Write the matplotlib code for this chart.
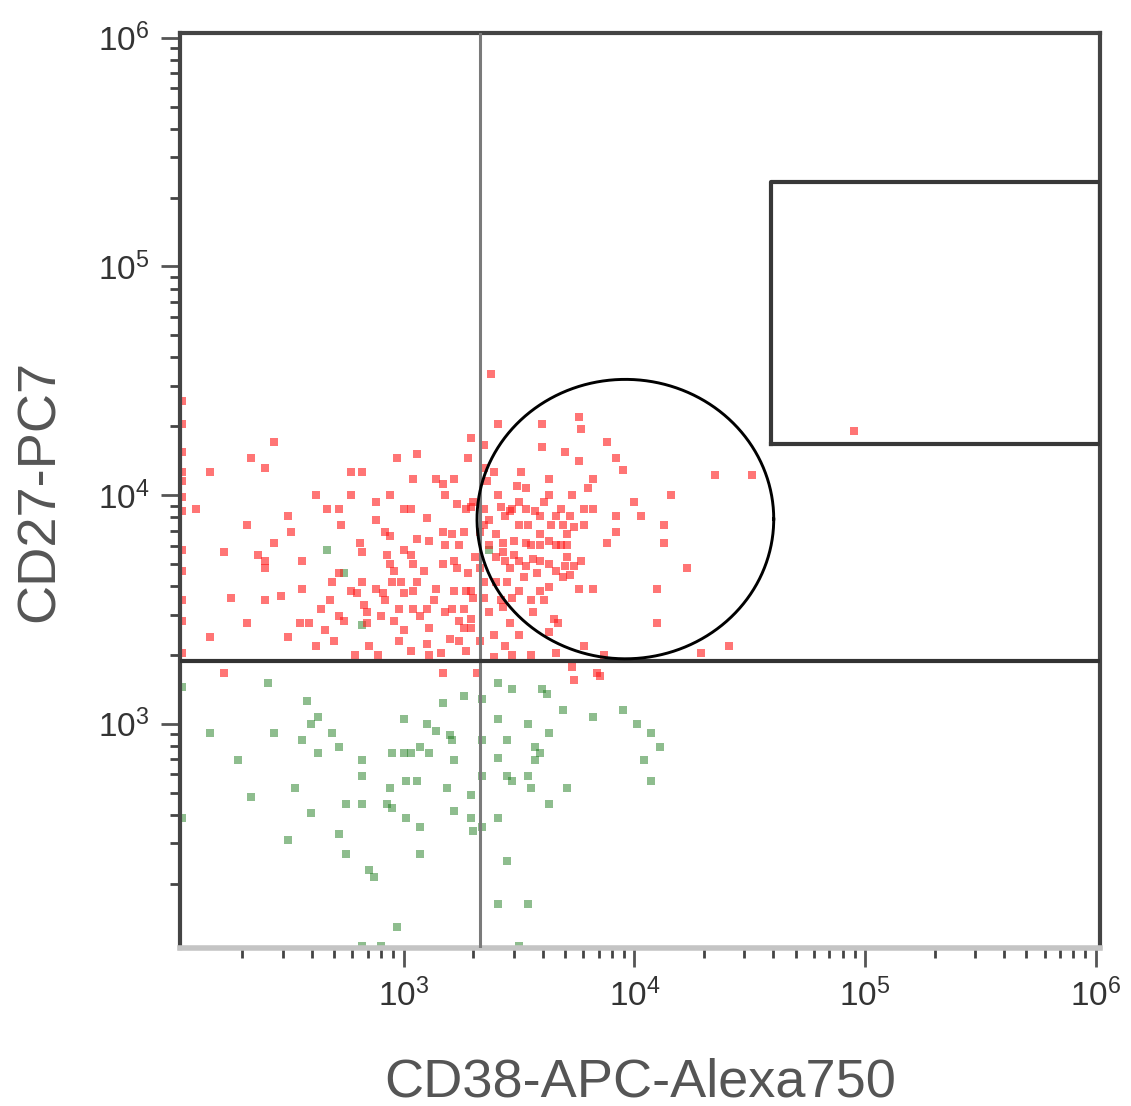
import numpy as np
import matplotlib.pyplot as plt
from matplotlib.ticker import LogLocator, NullFormatter, FixedLocator

# data values are log10 fluorescence intensities
red_x = [2.04, 2.04, 2.04, 2.04, 2.04, 2.04, 2.04, 2.04, 2.04, 2.04, 2.04, 2.04,
         2.44, 2.34, 2.40, 2.16, 2.77, 2.82, 2.97, 3.06, 3.29, 3.28, 2.62, 2.77,
         2.94, 2.88, 3.04, 3.14, 3.17, 3.22, 3.18, 3.23, 3.30, 2.10, 2.67, 2.72,
         3.00, 3.03, 3.10, 2.88, 2.73, 2.32, 2.50, 2.51, 3.17, 3.21, 3.26, 2.94,
         3.06, 3.00, 3.03, 2.93, 2.81, 2.82, 2.44, 2.37, 2.22, 2.40, 2.40, 2.56,
         2.94, 3.04, 3.17, 3.22, 3.23, 3.28, 2.72, 2.69, 2.82, 2.95, 2.99, 3.06,
         2.88, 2.47, 2.56, 2.25, 2.40, 2.80, 2.91, 3.00, 3.14, 3.27, 3.30, 3.04,
         2.68, 2.64, 2.83, 2.84, 2.98, 3.04, 3.10, 3.21, 3.26, 2.72, 2.90, 2.32,
         2.55, 2.59, 2.66, 2.84, 3.00, 3.11, 3.26, 3.29, 2.16, 2.50, 3.20, 2.62,
         2.85, 3.10, 3.16, 3.24, 2.79, 2.89, 2.22, 3.17,
         3.38, 3.41, 3.60, 3.76, 3.77, 3.35, 3.60, 3.70, 3.88, 3.76, 3.92, 3.95,
         3.35, 3.39, 3.51, 3.63, 3.82, 3.80, 4.35, 4.51, 3.49, 3.53, 3.41, 3.63,
         3.73, 4.16, 4.00, 3.27, 3.35, 3.47, 3.53, 3.68, 3.78, 3.82, 3.92, 4.03,
         4.13, 3.35, 3.50, 3.54, 3.64, 3.69, 3.78, 3.92, 3.40, 3.59, 3.71, 3.43,
         3.53, 3.63, 3.71, 3.88, 4.13, 3.43, 3.48, 3.56, 3.71, 3.77, 4.23, 3.33,
         3.46, 3.63, 3.40, 3.45, 3.52, 3.58, 3.76, 3.82, 4.10, 3.29, 3.35, 3.47,
         3.63, 3.69, 3.43, 3.56, 3.65, 3.67, 3.29, 3.46, 3.50, 3.39, 3.63, 4.10,
         3.78, 4.41, 4.29, 3.66, 3.87, 3.39, 3.47, 3.55, 3.73, 3.84, 3.32, 4.95,
         3.44, 3.59, 3.68, 3.55, 3.74, 3.50, 3.37, 3.61, 3.36, 3.74, 3.85,
         3.46, 3.50, 3.57, 3.61, 3.66, 3.72, 3.74, 3.70, 3.72, 3.66, 3.59, 3.53,
         3.44, 3.40, 3.37, 3.42, 3.48, 3.59, 3.66, 3.50, 3.55, 3.59, 3.42, 3.37,
         3.33, 3.44, 3.35, 3.31, 3.33, 3.29,
         3.22, 3.18, 3.13, 3.24, 3.07, 2.96, 2.92, 3.09, 3.18, 3.11, 3.24, 2.96,
         2.77, 2.74, 2.70, 2.98, 3.03, 3.11, 3.27, 2.92]
red_y = [4.41, 4.31, 4.19, 4.10, 3.99, 3.93, 3.76, 3.67, 3.54, 3.31, 4.06, 3.45,
         4.23, 4.16, 4.12, 4.10, 4.10, 4.10, 4.16, 4.18, 4.25, 4.16, 4.00, 4.00,
         4.00, 3.97, 4.07, 4.07, 4.05, 4.07, 4.00, 3.96, 3.97, 3.94, 3.94, 3.94,
         3.94, 3.94, 3.90, 3.89, 3.87, 3.87, 3.91, 3.84, 3.84, 3.83, 3.84, 3.82,
         3.81, 3.76, 3.74, 3.74, 3.79, 3.75, 3.79, 3.74, 3.75, 3.71, 3.68, 3.71,
         3.70, 3.70, 3.70, 3.71, 3.68, 3.66, 3.66, 3.62, 3.62, 3.62, 3.62, 3.62,
         3.59, 3.56, 3.59, 3.55, 3.54, 3.57, 3.57, 3.57, 3.59, 3.58, 3.55, 3.58,
         3.54, 3.50, 3.52, 3.49, 3.50, 3.50, 3.50, 3.50, 3.50, 3.47, 3.47, 3.44,
         3.44, 3.44, 3.41, 3.44, 3.41, 3.42, 3.42, 3.42, 3.38, 3.38, 3.37, 3.34,
         3.34, 3.35, 3.31, 3.36, 3.30, 3.30, 3.22, 3.22,
         4.53, 4.31, 4.31, 4.34, 4.29, 4.22, 4.21, 4.19, 4.23, 4.15, 4.16, 4.11,
         4.12, 4.10, 4.10, 4.07, 4.07, 4.03, 4.09, 4.09, 4.04, 4.03, 4.00, 4.00,
         4.00, 4.00, 3.97, 3.94, 3.94, 3.94, 3.94, 3.94, 3.94, 3.94, 3.91, 3.91,
         3.87, 3.87, 3.87, 3.87, 3.87, 3.87, 3.87, 3.84, 3.83, 3.83, 3.83, 3.79,
         3.79, 3.80, 3.78, 3.79, 3.79, 3.75, 3.74, 3.72, 3.73, 3.71, 3.68, 3.68,
         3.68, 3.70, 3.62, 3.62, 3.64, 3.66, 3.59, 3.59, 3.59, 3.58, 3.55, 3.55,
         3.60, 3.64, 3.51, 3.49, 3.46, 3.44, 3.46, 3.44, 3.39, 3.39, 3.40, 3.44,
         3.34, 3.34, 3.31, 3.31, 3.30, 3.29, 3.30, 3.30, 3.25, 3.22, 3.22, 4.28,
         3.91, 3.91, 3.78, 3.78, 3.69, 3.71, 3.78, 3.54, 4.06, 3.19, 3.21,
         3.93, 3.97, 3.93, 3.97, 3.91, 3.91, 3.86, 3.69, 3.65, 3.67, 3.71, 3.69,
         3.71, 3.73, 3.89, 3.95, 3.80, 3.78, 3.78, 3.58, 3.54, 3.58, 3.54, 3.49,
         3.36, 3.34, 3.62, 3.73, 3.84, 3.95,
         3.58, 3.49, 3.54, 3.45, 3.47, 3.45, 3.54, 3.67, 3.78, 3.80, 3.78, 3.67,
         3.58, 3.45, 3.36, 3.36, 3.32, 3.30, 3.32, 3.84]

green_x = [2.41, 2.04, 2.58, 2.63, 2.60, 2.16, 2.44, 2.69, 2.56, 2.72, 2.63, 2.28,
           2.82, 2.82, 3.00, 3.10, 3.14, 3.20, 3.21, 3.17, 3.26, 2.95, 3.00, 3.03,
           3.07, 3.11, 3.22, 3.01, 3.06, 2.94, 3.19, 3.29, 2.53, 2.34, 2.75, 2.82,
           2.93, 2.95, 2.60, 2.04, 3.01, 3.22, 3.29, 3.07, 2.72, 2.50, 2.75, 3.07,
           2.85, 2.87, 2.97, 2.82, 2.90, 3.30, 3.41, 3.47, 3.60, 3.62, 3.34, 3.41,
           3.54, 3.69, 3.82, 3.95, 4.01, 4.07, 4.11, 3.63, 3.34, 3.45, 3.57, 3.59,
           3.41, 3.57, 4.04, 3.34, 3.45, 3.47, 3.54, 3.55, 3.71, 4.07, 3.63, 3.41,
           3.34, 3.45, 3.41, 3.54, 3.50, 2.67, 2.74, 2.82, 3.37]
green_y = [3.18, 3.16, 3.10, 3.03, 3.00, 2.96, 2.96, 2.96, 2.93, 2.90, 2.87, 2.84,
           2.84, 2.77, 3.02, 3.00, 2.97, 2.95, 2.93, 3.09, 3.12, 2.87, 2.87, 2.87,
           2.90, 2.87, 2.84, 2.75, 2.75, 2.72, 2.72, 2.69, 2.72, 2.68, 2.65, 2.65,
           2.65, 2.63, 2.61, 2.59, 2.59, 2.62, 2.59, 2.55, 2.52, 2.49, 2.43, 2.43,
           2.36, 2.33, 2.11, 2.03, 2.03, 2.53, 3.18, 3.15, 3.15, 3.13, 3.11, 3.02,
           3.00, 3.06, 3.03, 3.06, 3.00, 2.96, 2.90, 2.96, 2.93, 2.93, 2.90, 2.87,
           2.85, 2.84, 2.84, 2.77, 2.77, 2.75, 2.77, 2.72, 2.72, 2.75, 2.65, 2.59,
           2.55, 2.40, 2.21, 2.21, 2.03, 3.76, 3.66, 3.43, 3.76]

# gates (log10 units)
quad_x = 3.33
quad_y = 3.275
rect_x0, rect_y0, rect_y1 = 4.59, 4.223, 5.367
ell_cx, ell_cy, ell_ax, ell_ay = 3.961, 3.895, 0.643, 0.611

xlim = (10**2.03, 10**6.02)
ylim = (10**2.02, 10**6.02)

plt.rcParams['font.family'] = ['Liberation Sans', 'DejaVu Sans']
plt.rcParams['mathtext.default'] = 'regular'

fig = plt.figure(figsize=(11.31, 11.06), dpi=100)
ax = fig.add_axes([0.159, 0.143, 0.814, 0.827])
ax.set_xscale('log')
ax.set_yscale('log')
ax.set_xlim(xlim)
ax.set_ylim(ylim)

ax.scatter(10**np.array(green_x), 10**np.array(green_y), s=40, marker='s',
           color='#1e7d1e', alpha=0.5, linewidths=0, zorder=2)
ax.scatter(10**np.array(red_x), 10**np.array(red_y), s=40, marker='s',
           color='#ff1a1a', alpha=0.6, linewidths=0, zorder=2)

# quadrant gate
ax.axvline(10**quad_x, color='#7a7a7a', lw=2.2, zorder=3)
ax.axhline(10**quad_y, color='#333333', lw=3, zorder=3)

# rectangle gate
rx = [10**rect_x0, 10**6.02, 10**6.02, 10**rect_x0, 10**rect_x0]
ry = [10**rect_y0, 10**rect_y0, 10**rect_y1, 10**rect_y1, 10**rect_y0]
ax.plot(rx, ry, color='#383838', lw=3, zorder=3)

# elliptical gate
t = np.linspace(0, 2 * np.pi, 300)
ax.plot(10**(ell_cx + ell_ax * np.cos(t)), 10**(ell_cy + ell_ay * np.sin(t)),
        color='black', lw=2.1, zorder=3)

for s in ['left', 'top', 'right']:
    ax.spines[s].set_color('#444444')
    ax.spines[s].set_linewidth(3)
ax.spines['bottom'].set_color('#c4c4c4')
ax.spines['bottom'].set_linewidth(4)

ax.xaxis.set_major_locator(FixedLocator([1e3, 1e4, 1e5, 1e6]))
ax.yaxis.set_major_locator(FixedLocator([1e3, 1e4, 1e5, 1e6]))
ax.xaxis.set_minor_locator(LogLocator(base=10, subs=np.arange(2, 10)))
ax.yaxis.set_minor_locator(LogLocator(base=10, subs=np.arange(2, 10)))
ax.xaxis.set_minor_formatter(NullFormatter())
ax.yaxis.set_minor_formatter(NullFormatter())
ax.set_xticklabels(['$10^{3}$', '$10^{4}$', '$10^{5}$', '$10^{6}$'])
ax.set_yticklabels(['$10^{3}$', '$10^{4}$', '$10^{5}$', '$10^{6}$'])
ax.tick_params(which='major', length=14, width=2, color='#555555',
               labelsize=24, labelcolor='#333333', pad=8)
ax.tick_params(which='minor', length=7, width=2, color='#444444')

ax.set_xlabel('CD38-APC-Alexa750', fontsize=39, color='#555555', labelpad=32)
ax.set_ylabel('CD27-PC7', fontsize=39, color='#555555', labelpad=24)

plt.savefig('out.png')
plt.close()
